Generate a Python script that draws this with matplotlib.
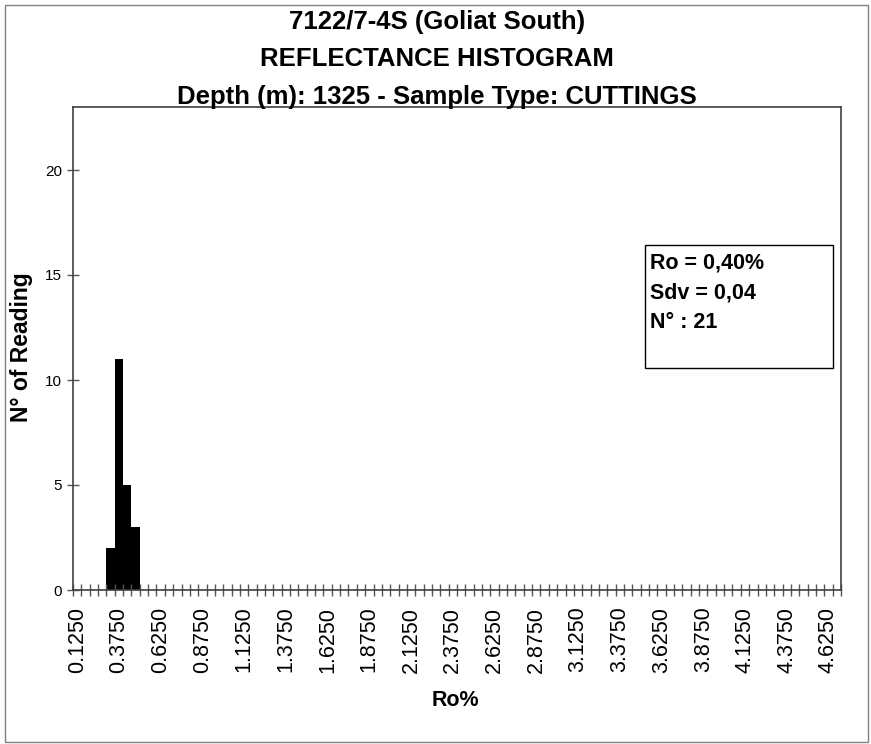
import numpy as np
import matplotlib.pyplot as plt
from matplotlib.patches import Rectangle

# Data: Ro% classes (0.05 wide, starting at 0.125) and counts
start = 0.125
step = 0.05
n_classes = 92
bin_values = [0.325, 0.375, 0.425, 0.475]
counts = [2, 11, 5, 3]

classes = start + step * np.arange(n_classes)
idx = [int(round((v - start) / step)) for v in bin_values]
label_idx = np.arange(0, n_classes, 5)
tick_labels = [f"{classes[i]:.4f}" for i in label_idx]

title_lines = ["7122/7-4S (Goliat South)",
               "REFLECTANCE HISTOGRAM",
               "Depth (m): 1325 - Sample Type: CUTTINGS"]
stats_lines = ["Ro = 0,40%", "Sdv = 0,04", "N° : 21"]

W, H = 871, 744
fig = plt.figure(figsize=(W / 100, H / 100), dpi=100)
plt.rcParams['font.family'] = ['Liberation Sans', 'DejaVu Sans']

def fx(px):
    return px / W

def fy(py):
    return 1 - py / H

# outer border
fig.patches.append(Rectangle((fx(5), fy(742)), fx(863), 737 / H, transform=fig.transFigure,
                             fill=False, edgecolor='#808080', lw=1))

ax = fig.add_axes([fx(73), fy(590), fx(841 - 73), (590 - 107) / H])
ax.bar(idx, counts, width=1.0, color='black', edgecolor='none')

ax.set_xlim(-0.5, n_classes - 0.5)
ax.set_ylim(0, 23)

ax.set_yticks([0, 5, 10, 15, 20])
ax.tick_params(axis='y', direction='inout', length=8, width=1, color='#555555',
               labelsize=11, pad=4)

ax.set_xticks(label_idx)
ax.set_xticklabels(tick_labels, rotation=90, fontsize=15.5)
ax.tick_params(axis='x', which='major', length=0, pad=12)
ax.set_xticks(np.arange(n_classes + 1) - 0.5, minor=True)
ax.tick_params(axis='x', which='minor', direction='inout', length=8, width=1, color='#555555')

for s in ax.spines.values():
    s.set_color('#404040')
    s.set_linewidth(1.2)

# titles
for i, line in enumerate(title_lines):
    fig.text(fx(437), fy(22 + 37.5 * i), line, ha='center', va='center',
             fontsize=18.5, fontweight='bold')

fig.text(fx(22), fy(347), "N° of Reading", rotation=90, ha='center', va='center',
         fontsize=16.5, fontweight='bold')
fig.text(fx(455), fy(700), "Ro%", ha='center', va='center', fontsize=15.5, fontweight='bold')

# stats box
fig.patches.append(Rectangle((fx(645), fy(368)), fx(833 - 645), (368 - 245) / H,
                             transform=fig.transFigure, fill=False, edgecolor='black', lw=1))
for i, line in enumerate(stats_lines):
    fig.text(fx(650), fy(263 + 30 * i), line, ha='left', va='center',
             fontsize=15.5, fontweight='bold')

fig.savefig("out.png", dpi=100)
